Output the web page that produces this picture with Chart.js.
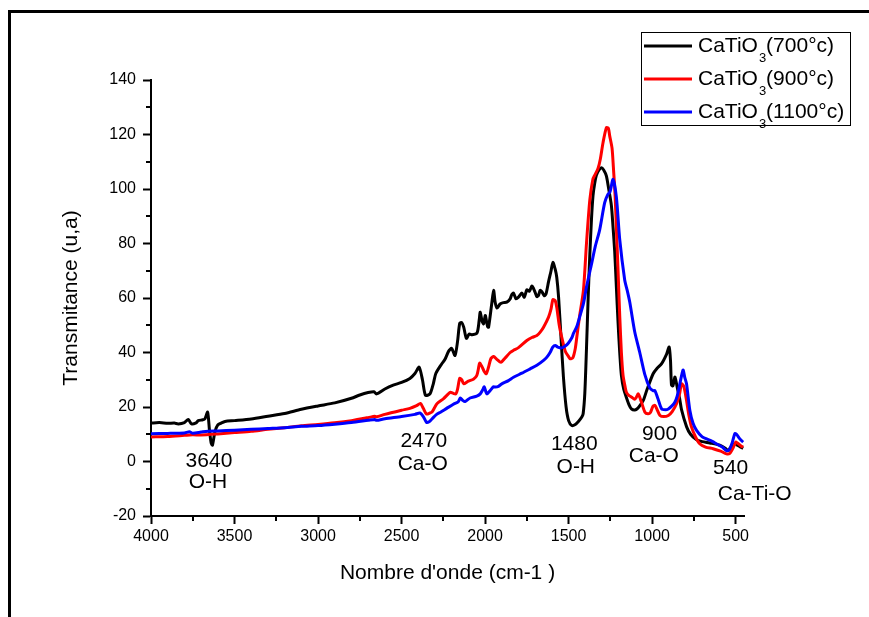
<!DOCTYPE html>
<html>
<head>
<meta charset="utf-8">
<script src="https://cdn.jsdelivr.net/npm/chart.js@4.4.0/dist/chart.umd.min.js"></script>
<style>
  html, body { margin: 0; padding: 0; background: #ffffff; }
  #wrap { width: 869px; height: 617px; position: relative; }
</style>
</head>
<body>
<div id="wrap"><canvas id="c" width="869" height="617"></canvas></div>
<script>
// ---- Data ----
const seriesLabels = ['700°c', '900°c', '1100°c'];
const seriesColors = ['#000000', '#ff0000', '#0000ff'];

const wn700 = [4000,3950,3900,3860,3837,3800,3777,3757,3730,3717,3690,3677,3661,3650,3640,3632,3617,3600,3580,3557,3500,3400,3300,3200,3100,3000,2900,2800,2750,2700,2665,2650,2600,2550,2500,2450,2420,2395,2375,2357,2330,2310,2295,2260,2240,2218,2200,2180,2165,2152,2140,2128,2112,2095,2078,2048,2035,2029,2018,2009,1999,1993,1985,1979,1960,1949,1940,1929,1910,1890,1870,1850,1840,1830,1815,1800,1780,1765,1750,1735,1720,1710,1700,1690,1680,1670,1660,1645,1635,1620,1605,1594,1580,1571,1560,1545,1531,1515,1500,1481,1460,1440,1421,1413,1403,1393,1383,1373,1363,1354,1344,1334,1320,1304,1290,1274,1260,1244,1234,1224,1214,1204,1194,1184,1170,1154,1138,1124,1103,1085,1070,1053,1030,994,970,943,914,898,890,884,875,864,857,850,835,824,794,770,734,700,655,595,560,545,525,505,490,475,455];
const t700 = [14.1,14.3,14.0,14.1,13.8,14.3,15.4,13.8,14.2,15.0,15.3,15.7,18.1,11.5,6.8,6.0,11.0,13.4,14.1,14.7,15.0,15.6,16.6,17.6,19.2,20.4,21.5,23.2,24.4,25.3,25.6,24.8,26.6,28.0,29.0,30.5,32.3,34.6,30.0,24.3,24.8,28.5,32.3,35.8,37.5,40.5,41.5,38.9,44.0,50.7,51.0,49.3,45.2,46.8,46.5,47.2,52.0,54.8,51.5,50.5,53.6,52.0,49.5,49.3,58.0,62.8,58.5,56.3,57.8,58.3,58.5,59.7,61.3,61.8,59.7,60.3,61.8,60.3,63.0,62.5,64.4,63.5,62.0,60.5,61.0,62.8,62.3,60.8,61.5,66.0,70.0,73.1,70.5,67.6,60.3,45.0,31.0,20.0,15.0,13.2,13.6,14.8,16.3,17.5,25.0,41.4,60.0,76.0,89.0,97.5,102.0,105.0,106.8,107.8,107.0,104.8,100.0,94.0,86.0,77.0,64.0,51.0,40.0,31.6,26.5,23.5,20.8,19.3,18.9,19.6,20.8,22.4,26.5,32.2,34.2,35.9,39.3,42.0,37.0,28.0,27.8,31.0,29.5,27.3,23.0,19.0,12.8,10.0,8.0,7.3,6.8,6.0,4.8,4.0,5.5,6.5,6.0,5.4,4.8];

const wn900 = [4000,3900,3800,3750,3700,3600,3500,3400,3300,3200,3100,3000,2900,2800,2700,2660,2650,2600,2500,2450,2410,2387,2370,2351,2330,2317,2300,2287,2250,2220,2208,2190,2175,2165,2152,2140,2128,2100,2070,2050,2040,2033,2020,2005,1993,1980,1965,1949,1930,1905,1880,1850,1830,1800,1750,1720,1690,1670,1650,1620,1605,1594,1580,1571,1556,1541,1520,1500,1491,1475,1460,1451,1435,1411,1393,1373,1355,1344,1324,1310,1294,1274,1262,1254,1240,1232,1222,1214,1204,1194,1184,1174,1162,1154,1140,1122,1105,1095,1083,1065,1043,1025,1010,995,983,970,953,930,903,880,854,835,824,810,794,780,764,740,715,680,635,590,555,535,515,500,490,470,455];
const t900 = [9.0,9.2,9.6,9.8,9.7,10.1,10.6,11.1,11.8,12.4,13.1,13.6,14.2,15.0,16.1,16.6,16.4,17.3,18.8,19.5,20.5,21.3,19.5,17.4,17.8,18.2,20.0,21.3,23.0,24.8,25.4,25.0,24.8,26.5,30.5,30.0,28.5,29.5,30.2,31.5,34.0,36.1,35.0,33.0,32.2,34.5,37.8,38.5,37.5,36.4,38.0,40.0,40.8,41.8,44.4,45.5,46.2,47.5,49.3,53.0,56.0,59.4,59.0,56.6,50.0,45.6,40.5,38.5,37.7,38.0,41.5,45.6,53.0,63.0,80.0,96.0,103.5,105.0,107.5,111.0,117.0,122.5,122.3,119.5,115.0,108.0,98.0,86.0,70.0,53.6,40.0,31.6,27.5,25.4,24.3,23.6,22.8,23.5,24.8,22.0,18.1,17.5,18.0,20.3,20.6,19.0,16.9,16.5,16.9,18.3,21.2,25.0,28.5,27.5,22.4,17.0,12.6,9.0,6.5,5.3,4.7,3.8,2.8,3.0,5.0,7.1,6.8,5.8,5.2];

const wn1100 = [4000,3900,3800,3770,3750,3700,3660,3600,3500,3400,3300,3200,3100,3000,2900,2800,2700,2660,2650,2600,2500,2420,2390,2370,2351,2335,2317,2290,2267,2230,2190,2160,2148,2135,2120,2090,2050,2029,2015,2005,1995,1989,1970,1950,1939,1920,1900,1860,1830,1780,1730,1690,1650,1630,1610,1595,1580,1565,1541,1520,1501,1480,1471,1451,1434,1411,1393,1361,1340,1314,1284,1265,1252,1234,1214,1194,1164,1150,1134,1104,1074,1044,1014,994,983,965,943,920,903,880,864,850,834,820,814,805,794,774,755,734,700,674,640,615,580,555,540,520,505,495,475,455];
const t1100 = [10.2,10.3,10.5,10.9,10.4,10.8,11.1,11.2,11.5,11.8,12.1,12.4,12.9,13.2,13.7,14.3,15.1,15.4,15.1,15.7,16.5,17.3,17.8,16.5,14.4,14.6,15.7,17.3,18.1,19.5,21.0,22.0,23.3,22.5,22.0,23.3,24.0,24.8,26.2,27.4,25.5,24.8,26.0,27.4,27.3,27.6,28.5,29.7,30.9,32.4,34.0,35.3,37.1,38.3,40.1,42.0,42.6,42.0,41.7,42.4,43.5,45.5,47.0,49.5,53.0,58.0,64.0,73.0,79.0,85.0,95.0,98.0,99.0,103.5,97.0,81.5,66.5,63.0,58.5,47.5,40.0,32.0,27.0,26.0,26.0,23.0,19.3,19.0,19.3,20.5,21.8,24.0,28.5,32.5,33.6,31.0,28.5,18.7,14.0,11.4,9.0,8.3,7.4,6.5,5.3,4.0,4.2,7.0,10.2,10.0,8.3,7.1];

const xTicks = [4000,3500,3000,2500,2000,1500,1000,500];
const xMinorTicks = [3750,3250,2750,2250,1750,1250,750];
const yMinorTicks = [-10,10,30,50,70,90,110,130];

// Peak annotations (text, wavenumber, transmitance)
const annoText = ['3640','O-H','2470','Ca-O','1480','O-H','900','Ca-O','540','Ca-Ti-O'];
const annoX    = [3653, 3659, 2367, 2373, 1466, 1457, 955, 990, 530, 386];
const annoY    = [0, -7.7, 7.3, -1.1, 6.4, -2.2, 9.9, 1.8, -2.6, -12.1];

const FONT = '"Liberation Sans", Arial, sans-serif';

function pts(xs, ys) { return xs.map((x, i) => ({ x: x, y: ys[i] })); }

const framePlugin = {
  id: 'frame',
  beforeDraw(chart) {
    const ctx = chart.ctx;
    ctx.save();
    ctx.fillStyle = '#ffffff';
    ctx.fillRect(0, 0, chart.width, chart.height);
    ctx.strokeStyle = '#000';
    ctx.lineWidth = 3;
    ctx.beginPath();
    ctx.moveTo(9.5, 617);
    ctx.lineTo(9.5, 11.5);
    ctx.lineTo(869, 11.5);
    ctx.stroke();
    ctx.restore();
  },
  afterDraw(chart) {
    const ctx = chart.ctx;
    const xs = chart.scales.x, ys = chart.scales.y;
    const ca = chart.chartArea;
    ctx.save();
    // minor ticks
    ctx.strokeStyle = '#000';
    ctx.lineWidth = 2;
    ctx.beginPath();
    yMinorTicks.forEach(v => {
      const py = Math.round(ys.getPixelForValue(v));
      ctx.moveTo(ca.left - 5, py); ctx.lineTo(ca.left, py);
    });
    xMinorTicks.forEach(v => {
      const px = Math.round(xs.getPixelForValue(v));
      ctx.moveTo(px, ca.bottom); ctx.lineTo(px, ca.bottom + 5);
    });
    ctx.stroke();

    // annotations
    ctx.fillStyle = '#000';
    ctx.font = '21px ' + FONT;
    ctx.textAlign = 'center';
    ctx.textBaseline = 'middle';
    annoText.forEach((t, i) => {
      ctx.fillText(t, xs.getPixelForValue(annoX[i]), ys.getPixelForValue(annoY[i]));
    });

    // legend
    const bx = 641.5, by = 32.5, bw = 209, bh = 93;
    ctx.fillStyle = '#ffffff';
    ctx.fillRect(bx, by, bw, bh);
    ctx.strokeStyle = '#000';
    ctx.lineWidth = 1;
    ctx.strokeRect(bx, by, bw, bh);
    const rows = [46, 79, 112];
    seriesLabels.forEach((lab, i) => {
      const y = rows[i];
      ctx.strokeStyle = seriesColors[i];
      ctx.lineWidth = 3;
      ctx.beginPath();
      ctx.moveTo(644, y); ctx.lineTo(692, y);
      ctx.stroke();
      ctx.fillStyle = '#000';
      ctx.textAlign = 'left';
      ctx.textBaseline = 'middle';
      ctx.font = '21px ' + FONT;
      let x = 698;
      ctx.fillText('CaTiO', x, y);
      x += ctx.measureText('CaTiO').width;
      ctx.font = '13px ' + FONT;
      ctx.fillText('3', x + 1, y + 12);
      x += ctx.measureText('3').width + 1;
      ctx.font = '21px ' + FONT;
      ctx.fillText('(' + lab + ')', x, y);
    });
    ctx.restore();
  }
};

new Chart(document.getElementById('c'), {
  type: 'scatter',
  data: {
    datasets: [
      { label: 'CaTiO3(700°c)', data: pts(wn700, t700), borderColor: seriesColors[0], order: 3 },
      { label: 'CaTiO3(900°c)', data: pts(wn900, t900), borderColor: seriesColors[1], order: 2 },
      { label: 'CaTiO3(1100°c)', data: pts(wn1100, t1100), borderColor: seriesColors[2], order: 1 }
    ].map(d => Object.assign(d, {
      showLine: true, pointRadius: 0, borderWidth: 3, tension: 0.25,
      backgroundColor: d.borderColor, fill: false
    }))
  },
  options: {
    responsive: false,
    animation: false,
    devicePixelRatio: 1,
    layout: { padding: { left: 0, top: 80, right: 125, bottom: 0 } },
    plugins: { legend: { display: false }, tooltip: { enabled: false } },
    scales: {
      x: {
        type: 'linear',
        reverse: true,
        min: 450,
        max: 4000,
        afterBuildTicks(scale) { scale.ticks = xTicks.map(v => ({ value: v })); },
        afterFit(scale) { scale.height = 101; },
        ticks: { color: '#000', font: { family: FONT, size: 16 }, padding: 3, maxRotation: 0, autoSkip: false,
                 callback: v => String(v) },
        grid: { display: true, drawOnChartArea: false, drawTicks: true, tickLength: 8, tickWidth: 2, tickColor: '#000' },
        border: { display: true, color: '#000', width: 2 },
        title: { display: true, text: "Nombre d'onde (cm-1 )", color: '#000',
                 font: { family: FONT, size: 21 }, padding: { top: 0, bottom: 31 } }
      },
      y: {
        min: -20,
        max: 140,
        afterFit(scale) { scale.width = 151; },
        ticks: { stepSize: 20, color: '#000', font: { family: FONT, size: 16 }, padding: 7 },
        grid: { display: true, drawOnChartArea: false, drawTicks: true, tickLength: 8, tickWidth: 2, tickColor: '#000' },
        border: { display: true, color: '#000', width: 2 },
        title: { display: true, text: 'Transmitance (u,a)', color: '#000',
                 font: { family: FONT, size: 21 }, padding: { top: 59, bottom: 0 } }
      }
    }
  },
  plugins: [framePlugin]
});
</script>
</body>
</html>
